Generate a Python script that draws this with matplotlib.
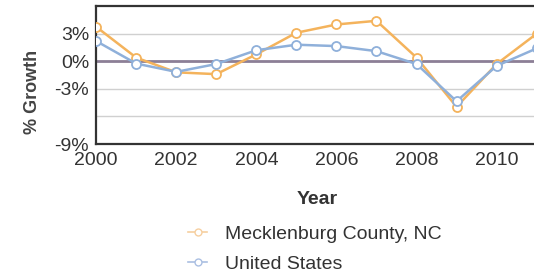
import matplotlib.pyplot as plt
from matplotlib.lines import Line2D

plt.rcParams['font.family'] = ['Liberation Sans', 'DejaVu Sans']

years = [2000, 2001, 2002, 2003, 2004, 2005, 2006, 2007, 2008, 2009, 2010, 2011]
mecklenburg = [3.75, 0.4, -1.2, -1.4, 0.75, 3.1, 4.0, 4.4, 0.4, -4.95, -0.3, 3.0]
united_states = [2.2, -0.25, -1.15, -0.3, 1.2, 1.8, 1.65, 1.1, -0.3, -4.35, -0.5, 1.4]
ytick_vals = [3, 0, -3, -9]
ytick_labels = ['3%', '0%', '-3%', '-9%']
xtick_vals = [2000, 2002, 2004, 2006, 2008, 2010]
series_names = ['Mecklenburg County, NC', 'United States']

orange = '#f4b35c'
blue = '#8fb0da'

fig = plt.figure(figsize=(5.34, 2.76), dpi=100)
ax = fig.add_axes([0.18, 0.478, 0.84, 0.5])

# grid lines (-6 has a line but no label)
for g in [3, -3, -6]:
    ax.axhline(g, color='#d0d0d0', lw=1, zorder=1)
ax.axhline(0, color='#8c7f96', lw=2, zorder=1)

ax.plot(years, mecklenburg, color=orange, lw=1.8, marker='o', ms=6.5,
        mfc='white', mec=orange, mew=1.3, zorder=3)
ax.plot(years, united_states, color=blue, lw=1.8, marker='o', ms=6.5,
        mfc='white', mec=blue, mew=1.3, zorder=4)

ax.set_xlim(2000, 2011.2)
ax.set_ylim(-9, 6)
ax.set_yticks(ytick_vals)
ax.set_yticklabels(ytick_labels)
ax.set_xticks(xtick_vals)
ax.tick_params(length=0, labelsize=14, colors='#333333')
ax.tick_params(axis='x', pad=6)
ax.tick_params(axis='y', pad=5)
for s in ax.spines.values():
    s.set_color('#333333')
    s.set_linewidth(1.6)

ax.set_xlabel('Year', fontsize=14, fontweight='bold', color='#333333')
ax.xaxis.set_label_coords(0.493, -0.34)
ax.set_ylabel('% Growth', fontsize=13, fontweight='bold', color='#444444')
ax.yaxis.set_label_coords(-0.123, 0.38)

handles = [
    Line2D([0], [0], color='#f6cfa0', lw=1.2, marker='o', ms=5, mfc='white', mec='#f6cfa0'),
    Line2D([0], [0], color='#aabfe2', lw=1.2, marker='o', ms=5, mfc='white', mec='#aabfe2'),
]
fig.legend(handles, series_names, loc='upper left', bbox_to_anchor=(0.352, 0.185),
           frameon=False, fontsize=14, handlelength=1.0, handletextpad=0.9,
           labelspacing=0.65, borderpad=0, borderaxespad=0, labelcolor='#333333')

fig.savefig('out.png', dpi=100)
